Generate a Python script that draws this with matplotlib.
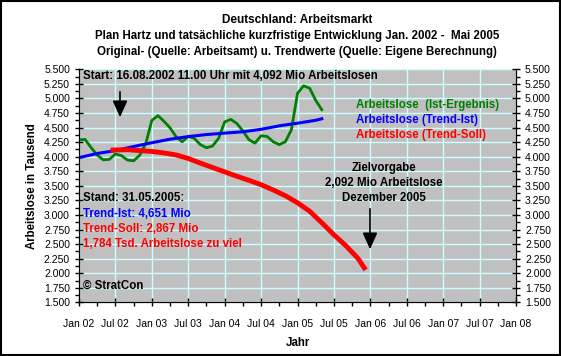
import matplotlib
matplotlib.use('Agg')
import matplotlib.pyplot as plt
from matplotlib.patches import Rectangle
from matplotlib.ticker import MultipleLocator, FuncFormatter

plt.rcParams['font.family'] = ['Liberation Sans', 'DejaVu Sans']

# months counted from Jan 2002 (0 = Jan 02)
ist_monate = list(range(0, 41))
ist_werte = [4290, 4296, 4156, 4028, 3946, 3954, 4047, 4018, 3942, 3930,
             4025, 4225, 4623, 4706, 4608, 4495, 4342, 4257, 4352, 4314,
             4207, 4153, 4184, 4316, 4597, 4641, 4572, 4443, 4292, 4233,
             4360, 4347, 4257, 4207, 4257, 4464, 5087, 5216, 5176, 4967, 4807]

trend_ist_monate = [0, 3, 6, 9, 12, 15, 18, 21, 24, 27, 30, 33, 36, 39, 40]
trend_ist_werte = [3985, 4055, 4105, 4175, 4240, 4300, 4345, 4380, 4405,
                   4428, 4470, 4530, 4575, 4625, 4651]

trend_soll_monate = [5.6, 8, 10, 12, 14, 16, 18, 20, 22, 24, 26, 28, 30, 32,
                     34, 36, 38, 40, 42, 44, 46, 47]
trend_soll_werte = [4115, 4120, 4105, 4090, 4065, 4030, 3970, 3890, 3815,
                    3740, 3665, 3595, 3520, 3430, 3330, 3210, 3065, 2867,
                    2660, 2470, 2250, 2092]

x_labels = ['Jan 02', 'Jul 02', 'Jan 03', 'Jul 03', 'Jan 04', 'Jul 04',
            'Jan 05', 'Jul 05', 'Jan 06', 'Jul 06', 'Jan 07', 'Jul 07', 'Jan 08']

fig = plt.figure(figsize=(5.61, 3.56), dpi=100)
fig.patches.append(Rectangle((0.002, 0.003), 0.996, 0.994, transform=fig.transFigure,
                             fill=False, edgecolor='black', linewidth=1.5))

ax = fig.add_axes([79 / 561, 1 - 302.4 / 356, 437 / 561, 233.1 / 356])
ax.set_facecolor('#c0c0c0')

ax.plot(ist_monate, ist_werte, color='#008000', linewidth=2, zorder=3)
ax.plot(trend_ist_monate, trend_ist_werte, color='#0000ff', linewidth=2.2, zorder=4)
ax.plot(trend_soll_monate, trend_soll_werte, color='#ff0000', linewidth=3.5, zorder=4)

ax.set_xlim(0, 72)
ax.set_ylim(1500, 5500)
ax.set_xticks(range(0, 73, 6))
ax.set_xticklabels(x_labels)
ax.xaxis.set_minor_locator(MultipleLocator(3))
ax.yaxis.set_major_locator(MultipleLocator(250))
ax.yaxis.set_minor_locator(MultipleLocator(125))
fmt = FuncFormatter(lambda v, p: '{:,.0f}'.format(v).replace(',', '.'))
ax.yaxis.set_major_formatter(fmt)
ax.grid(True, which='major', color='#ccffff', linewidth=1, zorder=1)
ax.set_axisbelow(True)
ax.spines['top'].set_visible(False)
ax.tick_params(which='major', direction='inout', length=6, labelsize=7.5, width=1)
ax.tick_params(which='minor', direction='out', length=3, width=1)
ax.tick_params(axis='x', which='major', pad=9)

ax2 = ax.twinx()
ax2.set_ylim(1500, 5500)
ax2.yaxis.set_major_locator(MultipleLocator(250))
ax2.yaxis.set_minor_locator(MultipleLocator(125))
ax2.yaxis.set_major_formatter(fmt)
ax2.spines['top'].set_visible(False)
ax2.tick_params(which='major', direction='inout', length=6, labelsize=7.5, width=1)
ax2.tick_params(which='minor', direction='out', length=3, width=1)

ax.set_ylabel('Arbeitslose in Tausend', fontsize=8.3, fontweight='bold', labelpad=4)
ax.set_xlabel('Jahr', fontsize=8.3, fontweight='bold', labelpad=6)

fig.text(0.53, 1 - 19.7 / 356, 'Deutschland: Arbeitsmarkt', ha='center', va='center',
         fontsize=8.5, fontweight='bold')
fig.text(0.53, 1 - 35.8 / 356,
         'Plan Hartz und tatsächliche kurzfristige Entwicklung Jan. 2002 -  Mai 2005',
         ha='center', va='center', fontsize=8.3, fontweight='bold')
fig.text(0.53, 1 - 51.9 / 356,
         'Original- (Quelle: Arbeitsamt) u. Trendwerte (Quelle: Eigene Berechnung)',
         ha='center', va='center', fontsize=8.3, fontweight='bold')

tb = dict(fontsize=8.3, fontweight='bold', transform=ax.transAxes, va='center')
def ay(py):
    return (302.4 - py) / 233.1

ax.text(4 / 437, ay(75.7), 'Start: 16.08.2002 11.00 Uhr mit 4,092 Mio Arbeitslosen', **tb)
ax.text(4 / 437, ay(198.3), 'Stand: 31.05.2005:', **tb)
ax.text(4 / 437, ay(214), 'Trend-Ist: 4,651 Mio', color='#0000ff', **tb)
ax.text(4 / 437, ay(229.3), 'Trend-Soll: 2,867 Mio', color='#ff0000', **tb)
ax.text(4 / 437, ay(244), '1,784 Tsd. Arbeitslose zu viel', color='#ff0000', **tb)
ax.text(4 / 437, ay(286), '© StratCon', **tb)

ax.text(277 / 437, ay(105), 'Arbeitslose  (Ist-Ergebnis)', color='#008000', **tb)
ax.text(277 / 437, ay(120.3), 'Arbeitslose (Trend-Ist)', color='#0000ff', **tb)
ax.text(277 / 437, ay(135.3), 'Arbeitslose (Trend-Soll)', color='#ff0000', **tb)

tc = dict(tb, ha='center')
ax.text(305 / 437, ay(168.3), 'Zielvorgabe', **tc)
ax.text(305 / 437, ay(183.3), '2,092 Mio Arbeitslose', **tc)
ax.text(305 / 437, ay(197.7), 'Dezember 2005', **tc)

arrow = dict(arrowstyle='-|>,head_width=0.45,head_length=1.0', color='black', lw=1.2)
ax.annotate('', xy=((120 - 79) / 437, ay(120)), xytext=((120 - 79) / 437, ay(89)),
            xycoords='axes fraction', arrowprops=arrow)
ax.annotate('', xy=((370 - 79) / 437, ay(252)), xytext=((370 - 79) / 437, ay(206)),
            xycoords='axes fraction', arrowprops=arrow)

fig.savefig('out.png', dpi=100)
